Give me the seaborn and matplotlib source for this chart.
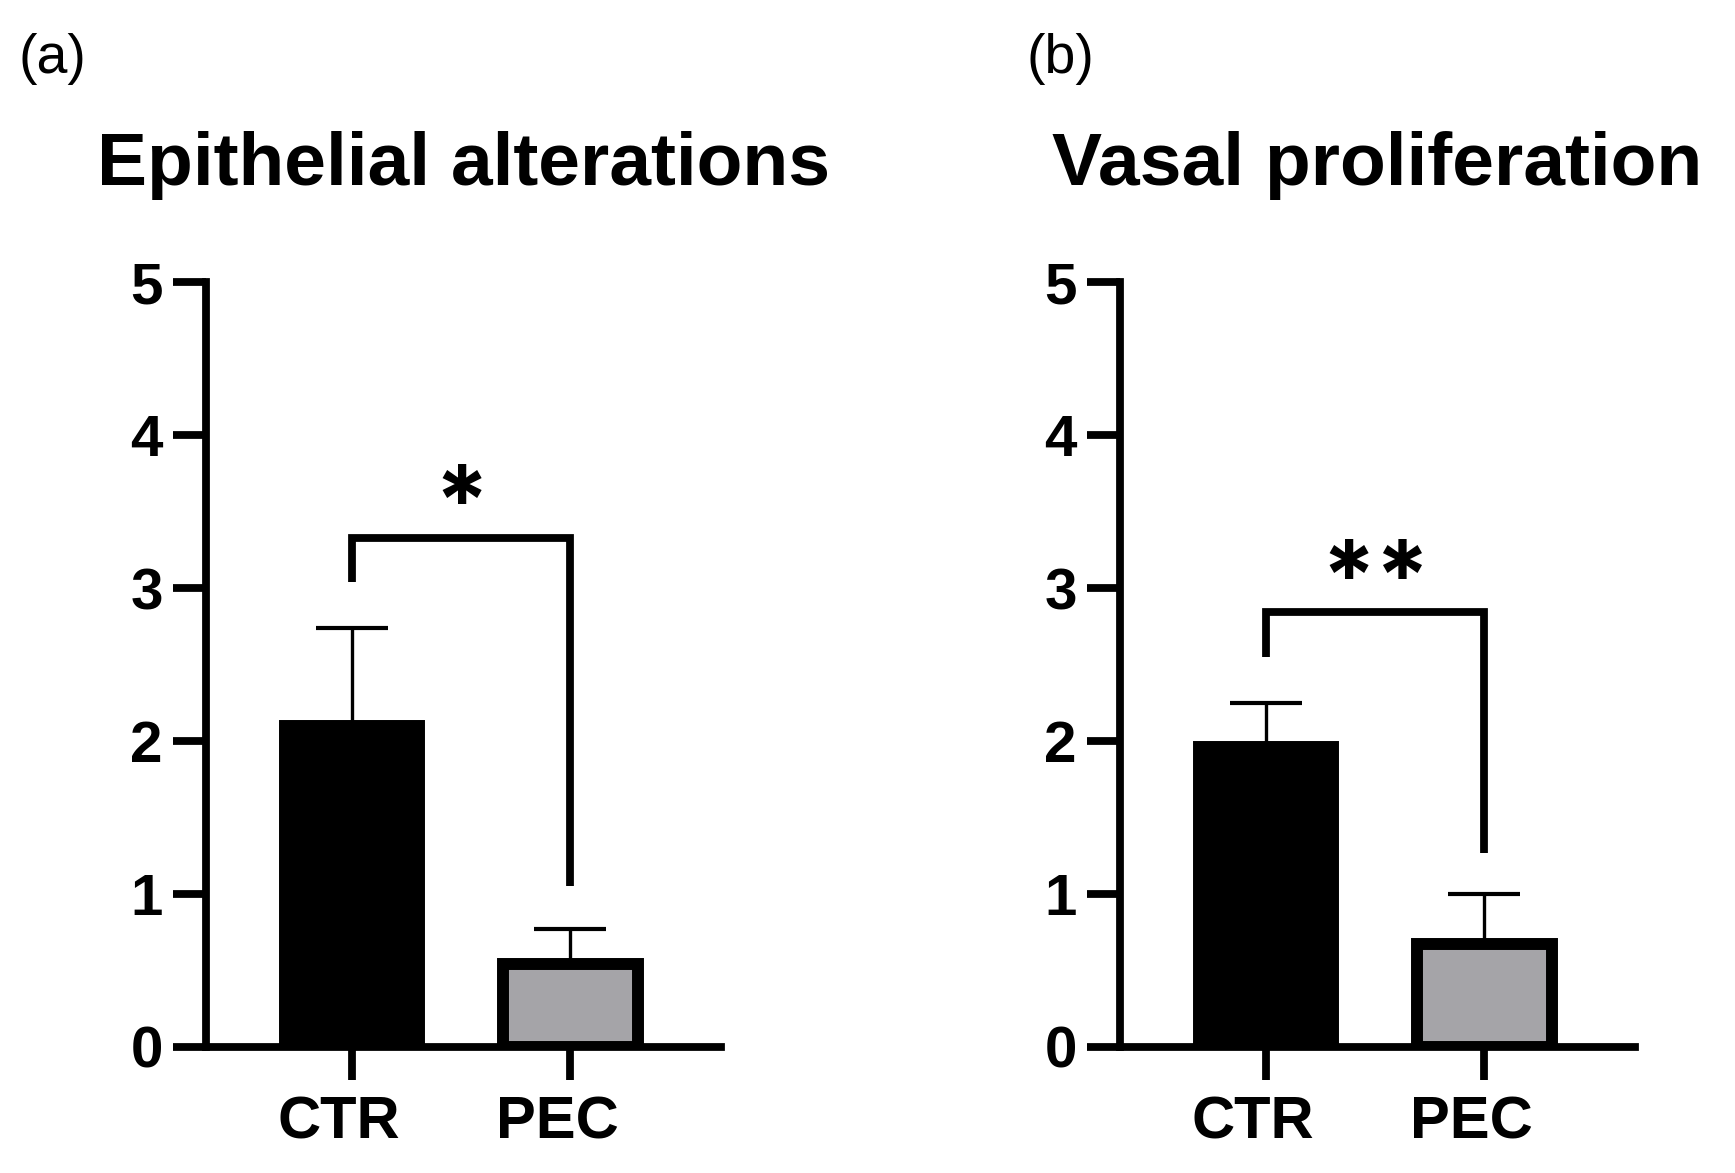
import matplotlib
matplotlib.use("Agg")
import matplotlib.pyplot as plt
from matplotlib.transforms import ScaledTranslation
import seaborn as sns

# data
groups = ["CTR", "PEC"]
bar_colors = ["#000000", "#a5a4a8"]

epi_mean = [2.10, 0.54]
epi_sd = [0.64, 0.23]
epi_bracket = [3.04, 3.33, 3.33, 1.05]
epi_star = "*"
epi_star_y = 3.51

vas_mean = [1.96, 0.67]
vas_sd = [0.29, 0.33]
vas_bracket = [2.55, 2.84, 2.84, 1.27]
vas_star = "**"
vas_star_y = 3.02

titles = ["Epithelial alterations", "Vasal proliferation"]
panel_tags = ["(a)", "(b)"]
yticks = [0, 1, 2, 3, 4, 5]

sns.set_style("ticks")
plt.rcParams["font.family"] = ["Liberation Sans", "DejaVu Sans"]
plt.rcParams["font.weight"] = "bold"
for key in ["text.color", "axes.edgecolor", "axes.labelcolor",
            "xtick.color", "ytick.color"]:
    plt.rcParams[key] = "black"

W, H = 1735, 1173
fig = plt.figure(figsize=(W / 100, H / 100), dpi=100)


def px_axes(x0, x1, y_top, y_bot):
    return fig.add_axes([x0 / W, 1 - y_bot / H, (x1 - x0) / W, (y_bot - y_top) / H])


def draw_panel(ax, means, sds, bracket, star, star_y, title, tag, tag_x):
    sns.barplot(x=groups, y=means, hue=groups, palette=bar_colors, legend=False,
                ax=ax, width=0.615, edgecolor="black", linewidth=8.6,
                saturation=1)
    ax.errorbar(x=[0, 1], y=means, yerr=[[0, 0], sds], fmt="none",
                ecolor="black", elinewidth=2.4, capsize=26, capthick=3,
                zorder=1)
    ax.plot([0, 0, 1, 1], bracket, color="black", lw=5.6,
            solid_capstyle="butt", solid_joinstyle="miter", clip_on=False)
    ax.text(0.5, star_y, star, ha="center", va="center", fontsize=70,
            fontweight="bold", family=["Inter", "DejaVu Sans"])

    ax.set_xlim(-0.67, 1.69)
    ax.set_ylim(0, 5)
    ax.set_yticks(yticks)
    ax.set_xlabel("")
    ax.set_ylabel("")
    sns.despine(ax=ax)
    for side in ["left", "bottom"]:
        ax.spines[side].set_linewidth(5.6)
        ax.spines[side].set_color("black")
    ax.tick_params(axis="both", length=24, width=5.6, labelsize=42,
                   colors="black")
    ax.tick_params(axis="y", pad=7)
    ax.tick_params(axis="x", pad=11, labelsize=43)
    shift = ScaledTranslation(-0.13, 0, fig.dpi_scale_trans)
    for lbl in ax.get_xticklabels():
        lbl.set_transform(lbl.get_transform() + shift)
    for lbl in ax.get_xticklabels() + ax.get_yticklabels():
        lbl.set_fontweight("bold")

    bbox = ax.get_position()
    fig.text(bbox.x0 + bbox.width / 2, 1 - 185 / H, title, ha="center",
             va="baseline", fontsize=54, fontweight="bold")
    fig.text(tag_x / W, 1 - 73 / H, tag, ha="left", va="baseline",
             fontsize=40, fontweight="normal")


ax_a = px_axes(206, 721, 282, 1047)
ax_b = px_axes(1120, 1635, 282, 1047)

draw_panel(ax_a, epi_mean, epi_sd, epi_bracket, epi_star, epi_star_y,
           titles[0], panel_tags[0], 18)
draw_panel(ax_b, vas_mean, vas_sd, vas_bracket, vas_star, vas_star_y,
           titles[1], panel_tags[1], 1027)

fig.savefig("out.png", dpi=100, facecolor="white")
plt.close(fig)
